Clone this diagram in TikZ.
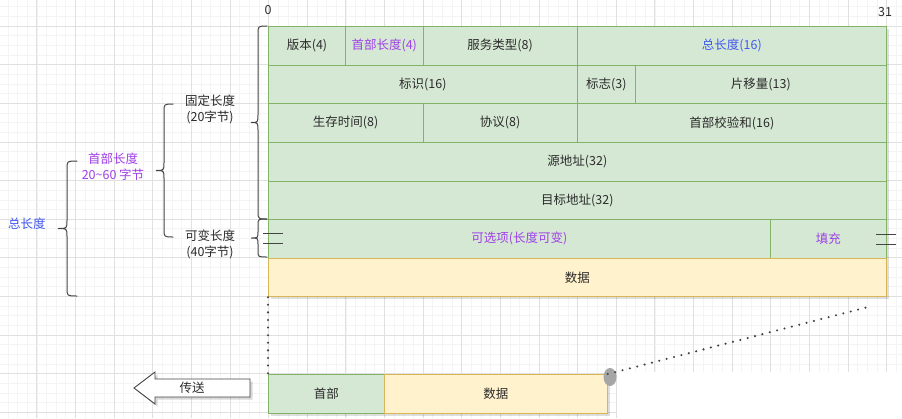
\documentclass[tikz,border=0pt]{standalone}
\usepackage{fontspec}
\setmainfont{Noto Sans CJK SC}
\definecolor{gfill}{HTML}{D5E8D4}
\definecolor{gline}{HTML}{82B366}
\definecolor{yfill}{HTML}{FFF2CC}
\definecolor{yline}{HTML}{D6B656}
\definecolor{txtc}{HTML}{2B2B2B}
\definecolor{blu}{HTML}{4058F0}
\definecolor{pur}{HTML}{A040E8}
\definecolor{gmin}{HTML}{F4F4F4}
\definecolor{gmaj}{HTML}{E0E0E0}
\definecolor{brc}{HTML}{444444}
\newcommand\mycell[6]{%
  \node[#2, minimum width={(#4-#3)*1pt}, anchor=north west] (#1) at (#3,#5) {#6};}
\newcommand\mybrace[7]{% cusp x, vertical x, end x, top, mid, bottom, r
  \draw[bracestyle] (#3,#4) .. controls (#2,#4) .. (#2,#4+#7) -- (#2,#5-#7)
    .. controls (#2,#5) .. (#1,#5) .. controls (#2,#5) .. (#2,#5+#7)
    -- (#2,#6-#7) .. controls (#2,#6) .. (#3,#6);}
\begin{document}
\begin{tikzpicture}[x=1pt,y=-1pt,
  every node/.style={font=\fontsize{12.5}{16}\selectfont, text=txtc},
  gcell/.style={draw=gline, fill=gfill, line width=0.8pt, minimum height=38.625pt, inner sep=0pt},
  ycell/.style={draw=yline, fill=yfill, line width=0.8pt, minimum height=38.625pt, inner sep=0pt},
  bracestyle/.style={draw=brc, line width=1pt, line cap=round},
  dotline/.style={draw=black!75, line width=2.3pt, line cap=round, dash pattern=on 0pt off 7.6pt},
  bars/.style={draw=brc, line width=1pt},
  lbl/.style={align=center, inner sep=1pt}]
\useasboundingbox (0,0) rectangle (902,418);
\fill[white] (0,0) rectangle (902,418);
% grid
\foreach \i in {0,...,94} {\draw[gmin, line width=0.6pt] ({-1.8+9.65625*\i},0) -- ++(0,418);}
\foreach \i in {0,...,45} {\draw[gmin, line width=0.6pt] (0,{-12.625+9.65625*\i}) -- ++(902,0);}
\foreach \i in {0,...,24} {\draw[gmaj, line width=0.7pt] ({-1.8+38.625*\i},0) -- ++(0,418);}
\foreach \i in {0,...,11} {\draw[gmaj, line width=0.7pt] (0,{-12.625+38.625*\i}) -- ++(902,0);}
\fill[white] (617,372) rectangle (902,418);
% shadows
\fill[black, opacity=0.13] (270.5,28.5) rectangle (889,299);
\fill[black, opacity=0.13] (270.5,376.5) rectangle (609.5,415.5);
% row 1
\mycell{ver}{gcell}{268}{345.25}{26}{版本(4)}
\mycell{ihl}{gcell,text=pur}{345.25}{422.5}{26}{首部长度(4)}
\mycell{tos}{gcell}{422.5}{577}{26}{服务类型(8)}
\mycell{tlen}{gcell,text=blu}{577}{886}{26}{总长度(16)}
% row 2
\mycell{ident}{gcell}{268}{577}{64.625}{标识(16)}
\mycell{flags}{gcell}{577}{635}{64.625}{标志(3)}
\mycell{frag}{gcell}{635}{886}{64.625}{片移量(13)}
% row 3
\mycell{ttl}{gcell}{268}{422.5}{103.25}{生存时间(8)}
\mycell{proto}{gcell}{422.5}{577}{103.25}{协议(8)}
\mycell{csum}{gcell}{577}{886}{103.25}{首部校验和(16)}
% rows 4-5
\mycell{src}{gcell}{268}{886}{141.875}{源地址(32)}
\mycell{dst}{gcell}{268}{886}{180.5}{目标地址(32)}
% row 6
\mycell{opt}{gcell,text=pur}{268}{770}{219.125}{可选项(长度可变)}
\mycell{pad}{gcell,text=pur}{770}{886}{219.125}{填充}
% data
\mycell{data}{ycell}{268}{886}{257.75}{数据}
% bit numbers
\node (zero) at (268,10) {0};
\node (n31) at (885,12) {31};
% bars
\draw[bars] (263,233) -- (283,233) (263,243) -- (283,243);
\draw[bars] (876,234) -- (896,234) (876,244) -- (896,244);
% braces
\mybrace{251}{258}{267}{26}{122.5}{219}{8}
\mybrace{251}{258}{267}{219}{238}{257}{6}
\mybrace{156}{164}{173}{104}{170.5}{237}{8}
\mybrace{58}{67}{77}{161}{228.5}{296}{8}
% labels
\node[lbl] (fixl) at (210,109) {固定长度\\(20字节)};
\node[lbl] (varl) at (210,244) {可变长度\\(40字节)};
\node[lbl, text=pur] (hlen) at (113,167) {首部长度\\20\string~60 字节};
\node[lbl, text=blu] (totl) at (27,224) {总长度};
% bottom packet
\mycell{hdr}{gcell}{268}{384}{374}{首部}
\mycell{pdata}{ycell}{384}{607}{374}{数据}
\fill[gray!70] (610,377) ellipse (6.5 and 9);
\fill[white] (617,372) rectangle (630,418);
\coordinate (dend) at (872,306);
\draw[dotline] (data.south west) -- (hdr.north west);
\draw[dotline] (pdata.north east) -- (dend);
% send arrow
\fill[black, opacity=0.15] (252.5,381.5) -- (157.5,381.5) -- (157.5,374.5) -- (136.5,390.5) -- (157.5,406.5) -- (157.5,399.5) -- (252.5,399.5) -- cycle;
\draw[draw=brc, fill=white, line width=0.9pt, line join=miter] (250,379) -- (155,379) -- (155,372) -- (134,388) -- (155,404) -- (155,397) -- (250,397) -- cycle;
\node (send) at (192,388) {传送};
\end{tikzpicture}
\end{document}
